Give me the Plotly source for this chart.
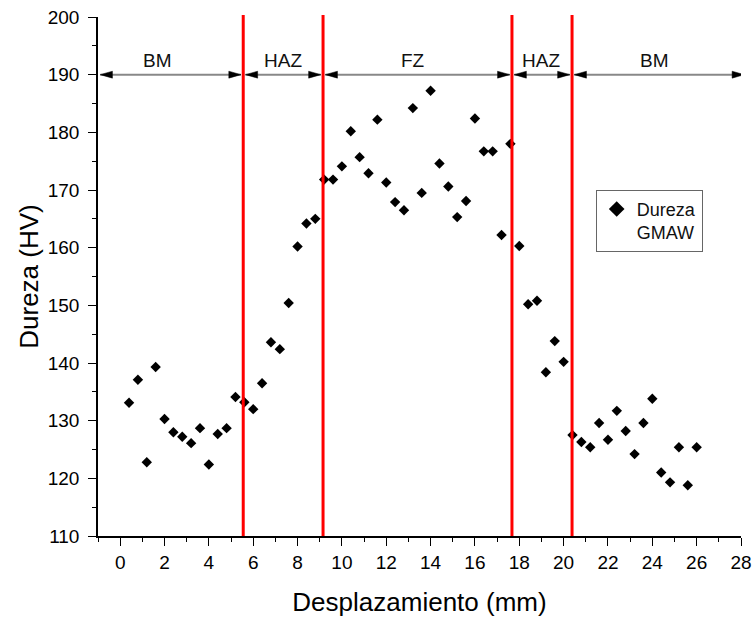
import plotly.graph_objects as go

# Data
desplazamiento = [0.4, 0.8, 1.2, 1.6, 2.0, 2.4, 2.8, 3.2, 3.6, 4.0, 4.4, 4.8, 5.2,
                  5.6, 6.0, 6.4, 6.8, 7.2, 7.6, 8.0, 8.4, 8.8, 9.2, 9.6, 10.0, 10.4,
                  10.8, 11.2, 11.6, 12.0, 12.4, 12.8, 13.2, 13.6, 14.0, 14.4, 14.8,
                  15.2, 15.6, 16.0, 16.4, 16.8, 17.2, 17.6, 18.0, 18.4, 18.8, 19.2,
                  19.6, 20.0, 20.4, 20.8, 21.2, 21.6, 22.0, 22.4, 22.8, 23.2, 23.6,
                  24.0, 24.4, 24.8, 25.2, 25.6, 26.0]
dureza = [133.1, 137.1, 122.8, 139.3, 130.3, 128.0, 127.2, 126.1, 128.7, 122.4,
          127.7, 128.7, 134.1, 133.2, 132.0, 136.5, 143.6, 142.4, 150.4, 160.2,
          164.2, 165.0, 171.8, 171.8, 174.1, 180.2, 175.7, 172.9, 182.2, 171.3,
          167.9, 166.5, 184.2, 169.5, 187.2, 174.6, 170.6, 165.3, 168.1, 182.4,
          176.7, 176.7, 162.2, 178.0, 160.3, 150.2, 150.8, 138.4, 143.8, 140.2,
          127.5, 126.3, 125.4, 129.6, 126.7, 131.7, 128.2, 124.2, 129.6, 133.8,
          121.0, 119.3, 125.4, 118.8, 125.4]

zone_bounds = [-1.0, 5.55, 9.15, 17.67, 20.38, 28.0]
zone_labels = ["BM", "HAZ", "FZ", "HAZ", "BM"]
zone_label_x = [1.7, 7.35, 13.2, 19.0, 24.1]
red_lines = [5.55, 9.15, 17.67, 20.38]
arrow_y = 190
label_y = 192.5

fig = go.Figure()
fig.add_trace(go.Scatter(
    x=desplazamiento, y=dureza, mode="markers",
    name="Dureza<br>GMAW",
    marker=dict(symbol="diamond", size=8, color="black"),
))

shapes = []
for xv in red_lines:
    shapes.append(dict(type="line", xref="x", yref="paper", x0=xv, x1=xv,
                       y0=0, y1=1.004, line=dict(color="#ff0000", width=3), layer="above"))

head_len = 0.55
head_h = 0.6
gap = 0.1
for i in range(len(zone_labels)):
    a = zone_bounds[i] + gap
    b = zone_bounds[i + 1] - gap
    if i == len(zone_labels) - 1:
        b = zone_bounds[i + 1] + 0.15
    shapes.append(dict(type="line", xref="x", yref="y", x0=a, x1=b, y0=arrow_y, y1=arrow_y,
                       line=dict(color="#888888", width=2), layer="above"))
    shapes.append(dict(type="path", xref="x", yref="y",
                       path=f"M {a} {arrow_y} L {a + head_len} {arrow_y + head_h} L {a + head_len} {arrow_y - head_h} Z",
                       fillcolor="black", line=dict(color="black", width=0.5), layer="above"))
    shapes.append(dict(type="path", xref="x", yref="y",
                       path=f"M {b} {arrow_y} L {b - head_len} {arrow_y + head_h} L {b - head_len} {arrow_y - head_h} Z",
                       fillcolor="black", line=dict(color="black", width=0.5), layer="above"))

font = "Liberation Sans, Arial, sans-serif"
annotations = []
for lab, xv in zip(zone_labels, zone_label_x):
    annotations.append(dict(x=xv, y=label_y, xref="x", yref="y", text=lab, showarrow=False,
                            font=dict(family=font, size=19, color="#111")))

fig.update_layout(
    width=754, height=618,
    margin=dict(l=98, r=13, t=17, b=82, autoexpand=False),
    plot_bgcolor="white", paper_bgcolor="white",
    shapes=shapes, annotations=annotations,
    font=dict(family=font, size=19, color="black"),
    showlegend=True,
    legend=dict(x=0.774, y=0.667, xanchor="left", yanchor="top",
                bgcolor="white", bordercolor="#666", borderwidth=1,
                font=dict(family=font, size=18, color="#111"), valign="top",
                itemsizing="constant"),
    xaxis=dict(range=[-1, 28], tickmode="linear", tick0=0, dtick=2, automargin=False,
               showline=True, linecolor="black", linewidth=1.5, mirror=False,
               ticks="outside", ticklen=8, tickwidth=1.2, tickcolor="black",
               minor=dict(tickmode="linear", tick0=-1, dtick=1, ticks="outside", ticklen=4,
                          tickcolor="black", tickwidth=1.2, showgrid=False),
               showgrid=False, zeroline=False,
               tickfont=dict(family=font, size=19),
               title=dict(text="Desplazamiento (mm)", font=dict(family=font, size=26), standoff=21)),
    yaxis=dict(range=[110, 200], tickmode="linear", tick0=110, dtick=10, automargin=False,
               showline=True, linecolor="black", linewidth=1.5, mirror=False,
               ticks="outside", ticklen=8, tickwidth=1.2, tickcolor="black",
               ticklabelstandoff=5,
               minor=dict(tickmode="linear", tick0=110, dtick=5, ticks="outside", ticklen=4,
                          tickcolor="black", tickwidth=1.2, showgrid=False),
               showgrid=False, zeroline=False,
               tickfont=dict(family=font, size=19),
               title=dict(text="Dureza (HV)", font=dict(family=font, size=26), standoff=2)),
)

fig.write_html("out.html")
